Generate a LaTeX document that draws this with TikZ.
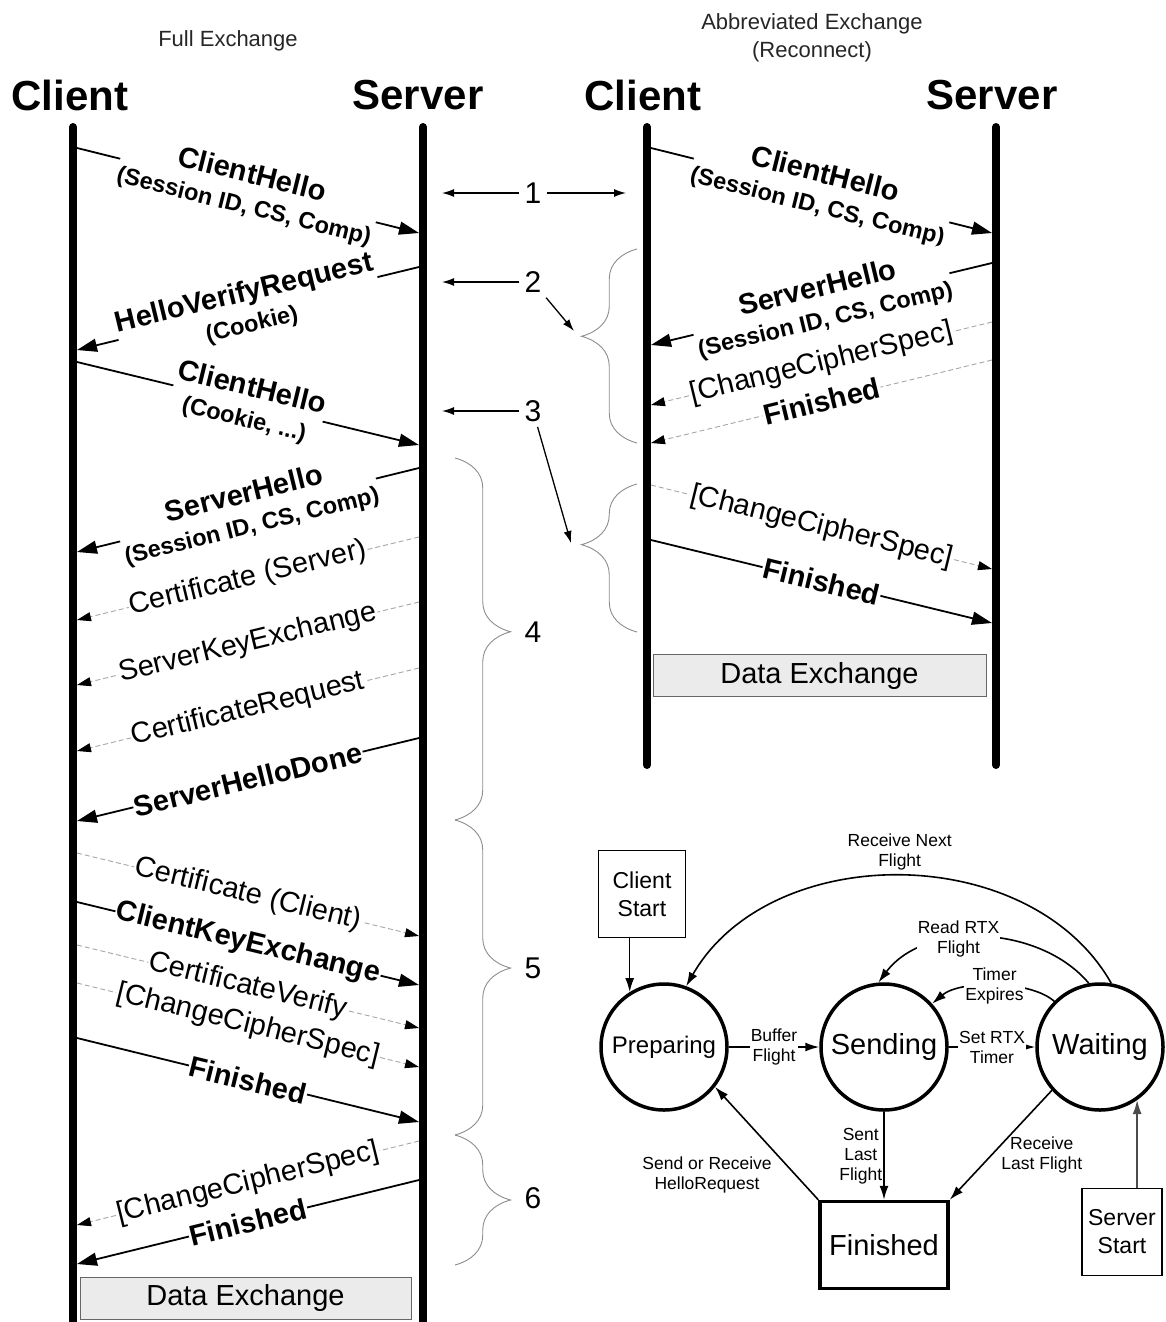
\documentclass[tikz,border=0pt]{standalone}
\usepackage{fontspec}
\setmainfont{Liberation Sans}
\usetikzlibrary{arrows.meta,decorations.pathreplacing}
\newcommand\msgsub[1]{{\fontsize{23.5}{26}\selectfont #1}}

\begin{document}
\begin{tikzpicture}[
    x=1pt, y=-1pt,
    font=\fontsize{29}{32}\selectfont,
    head/.style={font=\fontsize{42}{46}\selectfont\bfseries},
    ttl/.style={font=\fontsize{22}{28}\selectfont, align=center, text=black!85},
    life/.style={line width=8pt, line cap=round},
    msg/.style={line width=1.8pt, -{Triangle[length=20pt,width=13pt]}},
    opt/.style={draw=black!35, line width=0.9pt, dash pattern=on 5pt off 3pt,
      -{Triangle[length=14pt,width=9pt,color=black]}},
    lbl/.style={sloped, fill=white, inner sep=1pt, align=center},
    brc/.style={draw=black!45, line width=0.9pt, decorate,
      decoration={brace, amplitude=30pt, aspect=#1, transform={yscale=1.85}}},
    num/.style={font=\fontsize{30}{32}\selectfont, inner sep=5pt},
    ptr/.style={line width=1.3pt, -{Latex[length=12pt,width=8pt]}},
    dbox/.style={draw=black!60, fill=black!8, line width=1pt, minimum height=42pt},
    stnode/.style={circle, draw, line width=3.5pt, minimum size=126pt, inner sep=0pt,
      font=\fontsize{29}{32}\selectfont},
    startbox/.style={draw, line width=1.3pt, align=center, minimum height=87pt,
      font=\fontsize{23}{28}\selectfont},
    sm/.style={line width=1.6pt, -{Latex[length=14pt,width=9pt]}},
    tr/.style={font=\fontsize{17.5}{20}\selectfont, align=center, fill=white, inner sep=1pt}
  ]
  \useasboundingbox (0,0) rectangle (1165,1322);

  % titles and headers
  \node[ttl] (tfull) at (228,41) {Full Exchange};
  \node[ttl] (tabbr) at (812,38) {Abbreviated Exchange\\(Reconnect)};
  \node[head] (hca) at (70,95) {Client};
  \node[head] (hsa) at (418,95) {Server};
  \node[head] (hcb) at (643,95) {Client};
  \node[head] (hsb) at (992,95) {Server};

  % lifelines
  \coordinate (fcT) at (73,127);  \coordinate (fcB) at (73,1330);
  \coordinate (fsT) at (423,127); \coordinate (fsB) at (423,1330);
  \coordinate (acT) at (647,127); \coordinate (acB) at (647,765);
  \coordinate (asT) at (996,127); \coordinate (asB) at (996,765);
  \foreach \a/\b in {fcT/fcB, fsT/fsB, acT/acB, asT/asB}
    \draw[life] (\a) -- (\b);

  % message end points on the lifelines
  \foreach \n/\y in {1/148,2/350,3/362,4/552,5/620,6/685,7/751,8/821,9/853,10/902,11/945,12/983,13/1038,14/1225,15/1264}
    \coordinate (fc\n) at (77,\y);
  \foreach \n/\y in {1/233,2/267,3/445,4/468,5/537,6/602,7/668,8/738,9/936,10/985,11/1028,12/1067,13/1122,14/1141,15/1180}
    \coordinate (fs\n) at (419,\y);
  \foreach \n/\y in {1/148,2/345,3/405,4/443,5/485,6/540}
    \coordinate (ac\n) at (651,\y);
  \foreach \n/\y in {1/233,2/263,3/322,4/360,5/569,6/623}
    \coordinate (as\n) at (992,\y);

  % full exchange
  \draw[msg] (fc1) -- node[lbl]{\textbf{ClientHello}\\[-1pt]\msgsub{\textbf{(Session ID, CS, Comp)}}} (fs1);
  \draw[msg] (fs2) -- node[lbl]{\textbf{HelloVerifyRequest}\\[-1pt]\msgsub{\textbf{(Cookie)}}} (fc2);
  \draw[msg] (fc3) -- node[lbl]{\textbf{ClientHello}\\[-1pt]\msgsub{\textbf{(Cookie, ...)}}} (fs3);
  \draw[msg] (fs4) -- node[lbl]{\textbf{ServerHello}\\[-1pt]\msgsub{\textbf{(Session ID, CS, Comp)}}} (fc4);
  \draw[opt] (fs5) -- node[lbl]{Certificate (Server)} (fc5);
  \draw[opt] (fs6) -- node[lbl]{ServerKeyExchange} (fc6);
  \draw[opt] (fs7) -- node[lbl]{CertificateRequest} (fc7);
  \draw[msg] (fs8) -- node[lbl]{\textbf{ServerHelloDone}} (fc8);
  \draw[opt] (fc9) -- node[lbl]{Certificate (Client)} (fs9);
  \draw[msg] (fc10) -- node[lbl]{\textbf{ClientKeyExchange}} (fs10);
  \draw[opt] (fc11) -- node[lbl]{CertificateVerify} (fs11);
  \draw[opt] (fc12) -- node[lbl]{[ChangeCipherSpec]} (fs12);
  \draw[msg] (fc13) -- node[lbl]{\textbf{Finished}} (fs13);
  \draw[opt] (fs14) -- node[lbl]{[ChangeCipherSpec]} (fc14);
  \draw[msg] (fs15) -- node[lbl]{\textbf{Finished}} (fc15);
  \node[dbox, minimum width=331pt] (dataa) at (245.5,1298) {Data Exchange};

  % abbreviated exchange
  \draw[msg] (ac1) -- node[lbl]{\textbf{ClientHello}\\[-1pt]\msgsub{\textbf{(Session ID, CS, Comp)}}} (as1);
  \draw[msg] (as2) -- node[lbl]{\textbf{ServerHello}\\[-1pt]\msgsub{\textbf{(Session ID, CS, Comp)}}} (ac2);
  \draw[opt] (as3) -- node[lbl]{[ChangeCipherSpec]} (ac3);
  \draw[opt] (as4) -- node[lbl]{\textbf{Finished}} (ac4);
  \draw[opt] (ac5) -- node[lbl]{[ChangeCipherSpec]} (as5);
  \draw[msg] (ac6) -- node[lbl]{\textbf{Finished}} (as6);
  \node[dbox, minimum width=333pt] (datab) at (819.5,675.5) {Data Exchange};

  % flight braces
  \draw[brc=0.48] (455,458) -- (455,820);
  \draw[brc=0.47] (455,820) -- (455,1135);
  \draw[brc=0.5] (455,1135) -- (455,1265);
  \draw[brc=0.55] (637,443) -- (637,249);
  \draw[brc=0.59] (637,632) -- (637,484);

  % flight numbers
  \node[num] (n1) at (533,193) {1};
  \node[num] (n2) at (533,282) {2};
  \node[num] (n3) at (533,411) {3};
  \node[num] (n4) at (533,632) {4};
  \node[num] (n5) at (533,968) {5};
  \node[num] (n6) at (533,1198) {6};
  \coordinate (p1a) at (442,193); \coordinate (p1b) at (626,193);
  \coordinate (p2a) at (442,282); \coordinate (p2b) at (574,331);
  \coordinate (p3a) at (442,411); \coordinate (p3b) at (571,543);
  \foreach \a/\b in {n1/p1a, n1/p1b, n2/p2a, n2/p2b, n3/p3a, n3/p3b}
    \draw[ptr] (\a) -- (\b);

  % state machine
  \node[startbox, minimum width=87pt] (cstart) at (642,894) {Client\\Start};
  \node[stnode, font=\fontsize{24}{28}\selectfont] (prep) at (664,1047) {Preparing};
  \node[stnode] (send) at (884,1047) {Sending};
  \node[stnode] (wait) at (1100,1047) {Waiting};
  \node[draw, line width=3.5pt, minimum width=128pt, minimum height=87pt,
    font=\fontsize{29}{32}\selectfont] (fin) at (884,1245) {Finished};
  \node[startbox, minimum width=80pt] (sstart) at (1122,1232) {Server\\Start};

  \draw[sm] (cstart.south -| prep.122) -- (prep.122);
  \draw[sm] (prep) -- node[tr]{Buffer\\Flight} (send);
  \draw[sm] (send) -- node[tr]{Set RTX\\Timer} (wait);
  \draw[sm] (wait.135) .. controls (1030,980) and (960,980) .. node[tr]{Timer\\Expires} (send.42);
  \draw[sm] (wait.100) .. controls (1040,925) and (925,920) .. node[tr, pos=0.6]{Read RTX\\Flight} (send.95);
  \draw[sm] (wait.80) .. controls (1030,840) and (770,840) .. node[tr, above=4pt, fill=none]{Receive Next\\Flight} (prep.70);
  \draw[sm] (send) -- node[tr, left, fill=none]{Sent\\Last\\Flight} (fin);
  \draw[sm] (wait.222) -- node[tr, right, fill=none, pos=0.59, xshift=8pt]{Receive\\Last Flight} (fin.north east);
  \draw[sm] (fin.north west) -- node[tr, left, fill=none, pos=0.22, xshift=-22pt]{Send or Receive\\HelloRequest} (prep.-38);
  \draw[sm, draw=black!70] (sstart.north -| wait.-55) -- (wait.-55);
\end{tikzpicture}
\end{document}
